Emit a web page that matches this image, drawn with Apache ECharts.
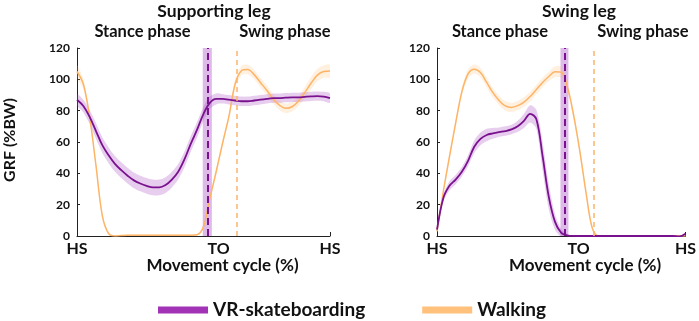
<!DOCTYPE html>
<html>
<head>
<meta charset="utf-8">
<script src="https://cdn.jsdelivr.net/npm/echarts@6/dist/echarts.min.js"></script>
<style>
  html, body { margin: 0; padding: 0; background: #fff; }
  #chart { width: 699px; height: 321px; }
</style>
</head>
<body>
<div id="chart"></div>
<script>
// movement cycle sample points (%), shared by both panels
const cycle = [0, 2.5, 5, 7.5, 10, 12.5, 15, 17.5, 20, 22.5, 25, 27.5, 30, 32.5, 35, 37.5, 40, 42.5, 45, 47.5,
  50, 52.5, 55, 57.5, 60, 62.5, 65, 67.5, 70, 72.5, 75, 77.5, 80, 82.5, 85, 87.5, 90, 92.5, 95, 97.5, 100]

// supporting leg
const supVR = [87, 83, 76, 67, 58, 51.5, 46, 42, 38.5, 35.5, 33.5, 32, 31, 31, 32.5, 36, 41, 49, 59, 68,
  78, 85, 87.5, 87.5, 87, 86.5, 86, 86, 86.5, 87, 87.5, 88, 88, 88.3, 88.5, 88.5, 88.8, 89.1, 89.3, 89, 88]
const supVRsd = [3.5, 4, 4.5, 5, 5, 5, 5, 5, 5, 5, 5, 5, 5, 5, 5, 5, 5, 5, 5, 5,
  4.5, 4, 3.5, 3, 3, 3, 3, 3, 3, 3, 3, 3, 3, 3, 3, 3, 3, 3, 3, 3, 3]
const supWalk = [105, 97, 76, 45, 13, 1.5, 0, 0.3, 0.5, 0.5, 0.5, 0.5, 0.5, 0.5, 0.5, 0.5, 0.5, 0.5, 0.5, 0.8,
  6, 24, 41, 59, 76, 97, 105.5, 106.3, 103, 98, 93, 87.5, 83.5, 81.5, 82.5, 86, 91.5, 97.5, 102.7, 105, 105.3]
const supWalkSd = [4, 3, 2, 2, 1.5, 1, 0.5, 0.5, 0.5, 0.5, 0.5, 0.5, 0.5, 0.5, 0.5, 0.5, 0.5, 0.5, 0.5, 0.5,
  1, 1.5, 2, 2, 2, 2.5, 3, 3, 3, 3, 3, 3, 3, 3, 3, 3, 3.5, 4, 4, 4, 4]

// swing leg
const swgVR = [4, 24, 32, 36, 41, 48, 57, 62, 64.5, 65.5, 66.3, 67, 68, 70, 73.5, 78, 74.5, 51, 25, 9,
  2, 0.3, 0, 0, 0, 0, 0, 0, 0, 0, 0, 0, 0, 0, 0, 0, 0, 0, 0, -0.3, 1.5]
const swgVRsd = [1, 2, 3, 3, 3, 3.5, 4, 4, 4, 3.5, 3, 3, 3, 3.5, 4.5, 5.5, 6, 9, 8, 5,
  2.5, 1, 0.3, 0.3, 0.3, 0.3, 0.3, 0.3, 0.3, 0.3, 0.3, 0.3, 0.3, 0.3, 0.3, 0.3, 0.3, 0.3, 0.3, 0.3, 0.3]
const swgWalk = [3, 28, 50.5, 72, 92, 103.5, 106.5, 104.3, 98, 91.5, 86.5, 83, 82.1, 83.2, 85.5, 89, 93.5, 98, 101.8, 104.8,
  104.5, 95, 77, 54, 27.5, 5, 0, 0, 0, 0, 0, 0, 0, 0, 0, 0, 0, 0, 0, 0, 0]
const swgWalkSd = [1, 1.5, 2, 2, 2.5, 3, 3, 3, 3, 3, 3, 3, 3, 3, 3, 3, 3, 3, 3, 3.5,
  3.5, 3, 2.5, 2, 1.5, 1, 0.3, 0.3, 0.3, 0.3, 0.3, 0.3, 0.3, 0.3, 0.3, 0.3, 0.3, 0.3, 0.3, 0.3, 0.3]

// toe-off events (% cycle), per panel
const toVR = [51.5, 51.3]
const toVRsd = [1.8, 1.6]
const toWalk = [63, 63.2]
const toLabelAt = [56, 57]

const yTicks = [0, 20, 40, 60, 80, 100, 120]

const VR_LINE = '#7a118f'
const VR_BAND = 'rgba(170, 80, 195, 0.28)'
const VR_TO_BAND = 'rgba(175, 90, 200, 0.42)'
const WALK_LINE = '#fdb467'
const WALK_BAND = 'rgba(253, 185, 110, 0.22)'
const FONT = 'Lato'

const panels = [
  { vr: supVR, vrSd: supVRsd, walk: supWalk, walkSd: supWalkSd },
  { vr: swgVR, vrSd: swgVRsd, walk: swgWalk, walkSd: swgWalkSd },
]

const pts = arr => cycle.map((x, i) => [x, arr[i]])

// mean ± sd band, drawn as one polygon through the axis scales
function bandSeries(idx, mean, sd, color) {
  const rows = cycle.map((x, i) => [x, mean[i] - sd[i], mean[i] + sd[i]])
  return {
    type: 'custom', xAxisIndex: idx, yAxisIndex: idx, silent: true, clip: true,
    data: rows,
    encode: { x: 0, y: [1, 2] },
    renderItem: (params, api) => {
      if (params.dataIndex !== 0) return null
      const upper = rows.map(r => api.coord([r[0], r[2]]))
      const lower = rows.map(r => api.coord([r[0], r[1]])).reverse()
      return {
        type: 'polygon',
        shape: { points: upper.concat(lower), smooth: 0.3 },
        style: { fill: color },
      }
    },
  }
}

const series = []
panels.forEach((p, idx) => {
  series.push(bandSeries(idx, p.walk, p.walkSd, WALK_BAND))
  series.push(bandSeries(idx, p.vr, p.vrSd, VR_BAND))
  series.push({
    name: 'Walking', type: 'line', xAxisIndex: idx, yAxisIndex: idx,
    data: pts(p.walk), symbol: 'none', smooth: 0.35,
    lineStyle: { color: WALK_LINE, width: 1.5 },
    markLine: {
      silent: true, symbol: 'none', label: { show: false },
      lineStyle: { color: WALK_LINE, type: [5, 4], width: 1.5 },
      data: [{ xAxis: toWalk[idx] }],
    },
  })
  series.push({
    name: 'VR-skateboarding', type: 'line', xAxisIndex: idx, yAxisIndex: idx,
    data: pts(p.vr), symbol: 'none', smooth: 0.35,
    lineStyle: { color: VR_LINE, width: 1.8 },
    markArea: {
      silent: true,
      itemStyle: { color: VR_TO_BAND },
      data: [[{ xAxis: toVR[idx] - toVRsd[idx] }, { xAxis: toVR[idx] + toVRsd[idx] }]],
    },
    markLine: {
      silent: true, symbol: 'none', label: { show: false },
      lineStyle: { color: VR_LINE, type: [7, 4], width: 2 },
      data: [{ xAxis: toVR[idx] }],
    },
  })
})

const grids = [
  { left: 77, right: 369, top: 48, bottom: 85 },
  { left: 437, right: 11, top: 48, bottom: 85 },
]

const xAxes = grids.map((g, idx) => ({
  type: 'value', gridIndex: idx, min: 0, max: 100,
  splitLine: { show: false },
  axisLine: { lineStyle: { color: '#222', width: 1 } },
  axisTick: { customValues: [0, 100], inside: true, length: 4, lineStyle: { color: '#222' } },
  axisLabel: {
    customValues: [0, toLabelAt[idx], 100],
    formatter: v => (v === 0 || v === 100) ? 'HS' : 'TO',
    color: '#111', fontFamily: FONT, fontWeight: 'bold', fontSize: 16, margin: 5,
  },
}))

const yAxes = grids.map((g, idx) => ({
  type: 'value', gridIndex: idx, min: yTicks[0], max: yTicks[yTicks.length - 1], interval: 20,
  splitLine: { show: false },
  axisLine: { show: true, lineStyle: { color: '#222', width: 1 } },
  axisTick: { show: true, inside: true, length: 3, lineStyle: { color: '#222' } },
  axisLabel: { color: '#111', fontFamily: FONT, fontWeight: 'bold', fontSize: 12, margin: 7 },
}))

const txt = (text, x, y, size, extra) => ({
  type: 'text', x, y, silent: true,
  style: { text, fill: '#111', font: `bold ${size}px ${FONT}`, align: 'center', verticalAlign: 'middle' },
  ...extra,
})

const graphic = [
  txt('Supporting leg', 214, 11, 17.5),
  txt('Stance phase', 142.5, 32, 16.5),
  txt('Swing phase', 285, 32, 16.5),
  txt('Swing leg', 579, 11, 17.5),
  txt('Stance phase', 500, 32, 16.5),
  txt('Swing phase', 643, 32, 16.5),
  txt('Movement cycle (%)', 222.5, 265.5, 17),
  txt('Movement cycle (%)', 585, 265.5, 17),
  txt('GRF (%BW)', 10, 140, 16, { rotation: Math.PI / 2 }),
]

const chart = echarts.init(document.getElementById('chart'))
chart.setOption({
  animation: false,
  backgroundColor: '#fff',
  grid: grids,
  xAxis: xAxes,
  yAxis: yAxes,
  legend: {
    left: 158, top: 300.5, padding: 0,
    icon: 'rect', itemWidth: 50, itemHeight: 7, itemGap: 57,
    textStyle: { color: '#111', fontFamily: FONT, fontWeight: 'bold', fontSize: 19 },
    data: [
      { name: 'VR-skateboarding', itemStyle: { color: '#a233b6' } },
      { name: 'Walking', itemStyle: { color: '#ffc17c' } },
    ],
    selectedMode: false,
  },
  graphic,
  series,
})
window.addEventListener('resize', () => chart.resize())
</script>
</body>
</html>
